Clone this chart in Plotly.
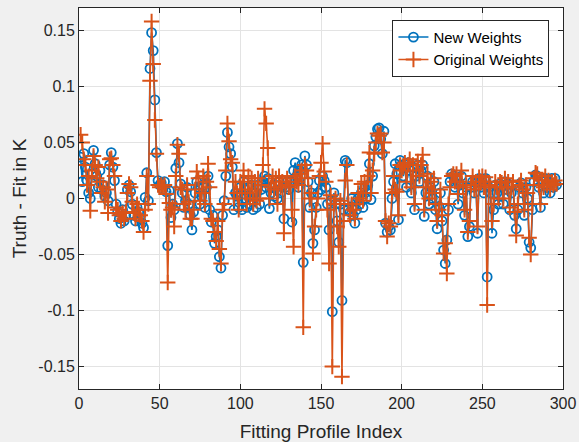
import plotly.graph_objects as go

new_weights = [
    0.037, 0.015, 0.040, 0.028, 0.016, 0.005, 0.000, 0.022, 0.043, 0.031,
    0.020, 0.010, 0.025, 0.008, 0.012, 0.002, 0.005, -0.002, 0.030, 0.041,
    0.028, 0.016, -0.005, -0.012, -0.018, -0.022, -0.010, -0.020, -0.015, 0.008,
    0.012, 0.006, -0.005, -0.015, -0.020, -0.008, -0.012, -0.018, -0.022, -0.026,
    0.001, 0.023, -0.002, 0.116, 0.148, 0.132, 0.088, 0.041, 0.016, 0.012,
    0.014, 0.008, 0.015, 0.006, -0.042, 0.007, -0.017, -0.005, -0.010, 0.027,
    0.049, 0.032, 0.013, 0.005, -0.008, -0.002, 0.010, -0.005, -0.015, -0.028,
    -0.012, 0.005, 0.015, 0.010, -0.005, 0.002, 0.012, -0.008, 0.010, 0.020,
    -0.010, -0.021, -0.015, -0.040, -0.034, -0.028, -0.052, -0.062, -0.015, -0.002,
    0.020, 0.059, 0.046, 0.040, 0.028, -0.010, 0.005, 0.002, -0.008, 0.010,
    -0.010, 0.015, 0.000, -0.008, 0.010, -0.005, 0.012, -0.010, 0.005, -0.008,
    0.012, -0.005, 0.008, 0.015, 0.020, 0.010, 0.018, -0.009, 0.005, 0.010,
    0.002, 0.012, 0.000, 0.015, 0.005, 0.010, -0.018, 0.010, 0.015, 0.008,
    0.015, -0.021, 0.025, 0.032, 0.020, 0.010, 0.025, 0.030, -0.057, 0.038,
    0.030, 0.015, -0.008, 0.005, -0.040, -0.028, -0.008, 0.005, 0.016, 0.008,
    0.020, 0.016, 0.010, -0.005, -0.028, -0.002, -0.101, 0.005, -0.005, -0.020,
    -0.039, -0.005, -0.091, -0.010, 0.034, 0.032, -0.010, -0.012, 0.000, -0.015,
    -0.022, -0.010, 0.000, -0.005, 0.005, -0.008, 0.010, 0.000, 0.012, 0.031,
    -0.001, 0.020, 0.047, 0.055, 0.062, 0.063, 0.053, 0.040, 0.060, -0.022,
    -0.030, -0.025, -0.028, 0.000, 0.015, 0.031, 0.022, -0.019, 0.034, 0.030,
    0.020, 0.030, 0.010, 0.032, 0.025, 0.005, 0.028, -0.010, 0.020, 0.030,
    0.015, 0.025, 0.030, -0.016, 0.005, 0.020, -0.005, 0.010, 0.000, 0.015,
    -0.010, -0.027, -0.007, 0.005, -0.020, -0.046, -0.058, -0.037, -0.010, 0.015,
    0.022, 0.020, 0.010, 0.018, -0.005, 0.012, 0.020, 0.005, -0.015, 0.010,
    -0.034, -0.025, 0.010, 0.015, 0.005, 0.014, -0.031, 0.018, 0.010, 0.015,
    0.005, 0.018, -0.070, 0.010, 0.005, -0.031, -0.010, 0.012, 0.005, -0.005,
    0.013, 0.010, -0.005, 0.015, 0.008, 0.013, -0.010, 0.005, 0.012, -0.015,
    -0.027, -0.010, 0.010, 0.014, 0.005, -0.015, 0.010, 0.000, -0.039, -0.044,
    -0.010, 0.015, 0.021, 0.020, 0.010, -0.008, 0.015, 0.005, 0.018, 0.010,
    0.015, 0.005, 0.018, 0.010, 0.018, 0.012,
]

original_weights = [
    0.057, 0.050, 0.035, 0.030, 0.012, 0.020, -0.011, 0.025, 0.038, 0.030,
    0.018, 0.028, 0.015, 0.005, 0.010, -0.003, 0.008, -0.013, 0.035, 0.036,
    0.030, 0.020, -0.008, -0.010, -0.015, -0.020, -0.013, -0.018, -0.012, 0.005,
    0.013, 0.010, -0.003, -0.013, -0.018, -0.005, -0.010, -0.015, -0.020, -0.030,
    -0.010, 0.020, -0.005, 0.105, 0.158, 0.120, 0.070, 0.040, 0.012, 0.010,
    0.012, 0.010, 0.012, 0.004, -0.075, -0.004, -0.010, -0.008, -0.025, 0.020,
    0.048, 0.040, 0.010, 0.008, -0.005, -0.010, 0.012, -0.003, -0.018, -0.018,
    -0.010, 0.008, 0.024, 0.018, -0.002, 0.005, 0.020, -0.005, 0.015, 0.031,
    0.010, -0.018, -0.020, -0.030, -0.038, -0.020, -0.045, -0.058, -0.010, -0.005,
    0.025, 0.067, 0.051, 0.035, 0.032, 0.000, 0.015, 0.005, -0.010, 0.015,
    0.008, 0.025, 0.005, -0.005, 0.020, 0.000, 0.018, -0.005, 0.015, -0.002,
    0.018, 0.000, 0.012, 0.030, 0.080, 0.067, 0.045, 0.000, 0.010, 0.020,
    0.008, 0.018, -0.005, 0.020, 0.010, 0.015, -0.031, 0.012, 0.018, 0.010,
    0.012, -0.010, -0.043, 0.020, 0.015, 0.012, 0.022, 0.025, -0.115, 0.030,
    0.025, 0.018, 0.000, 0.005, -0.049, -0.025, -0.010, 0.000, 0.020, 0.032,
    0.049, 0.024, 0.015, -0.010, -0.058, 0.003, -0.150, -0.005, 0.000, -0.025,
    -0.043, -0.002, -0.159, -0.020, 0.016, 0.030, -0.005, -0.015, -0.005, -0.010,
    -0.018, -0.005, 0.005, 0.000, 0.013, -0.002, 0.015, 0.005, 0.020, 0.041,
    0.005, 0.025, 0.040, 0.050, 0.058, 0.056, 0.058, 0.041, 0.050, -0.020,
    -0.034, -0.022, -0.025, 0.005, 0.020, 0.008, 0.006, -0.015, 0.030, 0.025,
    0.028, 0.032, 0.015, 0.030, 0.035, 0.010, 0.030, -0.005, 0.025, 0.033,
    0.020, 0.030, 0.039, -0.010, 0.010, 0.022, 0.000, 0.015, 0.005, 0.018,
    -0.005, -0.020, -0.010, 0.008, -0.015, -0.049, -0.040, -0.067, -0.005, 0.010,
    0.020, 0.022, 0.015, 0.022, 0.004, 0.015, 0.025, 0.010, -0.010, 0.012,
    -0.030, -0.020, 0.012, 0.020, 0.008, 0.015, -0.025, 0.019, 0.015, 0.020,
    0.010, 0.019, -0.095, 0.012, 0.010, -0.020, -0.005, 0.015, 0.010, 0.000,
    0.015, 0.014, 0.000, 0.018, 0.010, 0.015, -0.008, 0.010, 0.015, -0.012,
    -0.033, -0.005, 0.012, 0.016, 0.008, -0.010, 0.012, 0.005, -0.035, -0.050,
    -0.005, 0.018, 0.023, 0.022, 0.012, -0.005, 0.016, 0.010, 0.020, 0.012,
    0.016, 0.008, 0.015, 0.012, 0.016, 0.013,
]

profile_index = list(range(1, len(new_weights) + 1))

x_ticks = [0, 50, 100, 150, 200, 250, 300]
y_ticks = [-0.15, -0.1, -0.05, 0, 0.05, 0.1, 0.15]
y_tick_labels = ["-0.15", "-0.1", "-0.05", "0", "0.05", "0.1", "0.15"]

BLUE = "#0072BD"
ORANGE = "#D95319"
AXC = "#262626"
FONT = "Liberation Sans, Arial, Helvetica, sans-serif"

fig = go.Figure()
fig.add_trace(go.Scatter(
    x=profile_index, y=new_weights, mode="lines+markers", name="New Weights",
    line=dict(color=BLUE, width=1.6),
    marker=dict(symbol="circle-open", size=9, color=BLUE, line=dict(width=1.8, color=BLUE)),
))
fig.add_trace(go.Scatter(
    x=profile_index, y=original_weights, mode="lines+markers", name="Original Weights",
    line=dict(color=ORANGE, width=1.6),
    marker=dict(symbol="cross-thin-open", size=11, color=ORANGE, line=dict(width=2, color=ORANGE)),
))

axis_common = dict(
    showline=True, linecolor=AXC, linewidth=1, mirror="ticks",
    ticks="inside", ticklen=5, tickcolor=AXC, tickwidth=1,
    showgrid=True, gridcolor="#e3e3e3", gridwidth=1,
    zeroline=False, tickfont=dict(family=FONT, size=16, color=AXC),
    automargin=False,
)

fig.update_layout(
    width=579, height=442,
    margin=dict(l=79, r=16, t=8, b=53),
    paper_bgcolor="#f0f0f0", plot_bgcolor="white",
    font=dict(family=FONT, size=16, color=AXC),
    showlegend=True,
    legend=dict(
        x=0.972, y=0.969, xanchor="right", yanchor="top",
        bgcolor="white", bordercolor=AXC, borderwidth=1,
        font=dict(family=FONT, size=15, color="#000000"),
        tracegroupgap=0, itemwidth=30,
    ),
    xaxis=dict(range=[0, 300], tickvals=x_ticks, ticktext=[str(v) for v in x_ticks],
               title=dict(text="Fitting Profile Index", font=dict(family=FONT, size=19, color=AXC)),
               **axis_common),
    yaxis=dict(range=[-0.17, 0.17], tickvals=y_ticks, ticktext=y_tick_labels,
               title=dict(text="Truth - Fit in K", font=dict(family=FONT, size=19, color=AXC), standoff=6),
               **axis_common),
)

fig.write_html(
    "out.html",
    config={"displayModeBar": False},
    post_script="document.body.style.margin='0';document.body.style.padding='0';document.body.style.overflow='hidden';document.body.style.background='#f0f0f0';",
)
